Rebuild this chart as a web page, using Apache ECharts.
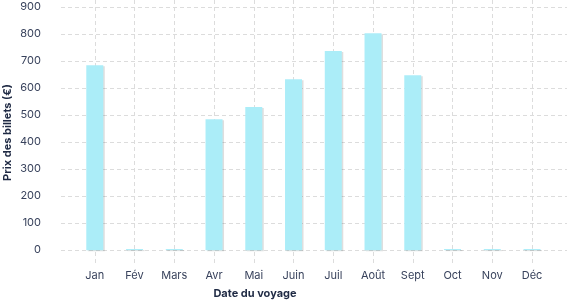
<!DOCTYPE html>
<html>
<head>
<meta charset="utf-8">
<script src="https://cdn.jsdelivr.net/npm/echarts@6/dist/echarts.min.js"></script>
<style>html,body{margin:0;padding:0;background:#fff}#c{width:577px;height:300px}</style>
</head>
<body>
<div id="c"></div>
<script>
const months = ['Jan','Fév','Mars','Avr','Mai','Juin','Juil','Août','Sept','Oct','Nov','Déc'];
const prices = [684, 4, 4, 484, 529, 632, 736, 802, 647, 4, 4, 4];
const yTicks = [0,100,200,300,400,500,600,700,800,900];

const monthIdx = months.map((m, i) => i);
const barData = prices.map((v, i) => [i, v]);

const chart = echarts.init(document.getElementById('c'), null, {renderer: 'canvas'});
const labelColor = '#38425c';
const gridLine = {show: true, lineStyle: {color: '#dcdcdc', type: [4, 3], width: 1}};
chart.setOption({
  animation: false,
  grid: {left: 61, right: 10, top: 0, bottom: 35, containLabel: false, outerBoundsMode: 'none'},
  xAxis: {
    type: 'value',
    min: -0.85, max: 11.88,
    name: 'Date du voyage',
    nameLocation: 'middle',
    nameGap: 23,
    nameMoveOverlap: false,
    nameTextStyle: {fontFamily: 'Inter', fontWeight: 'bold', fontSize: 11, color: '#1f2a44', padding: [0, 118, 0, 0]},
    axisLine: {show: false},
    axisTick: {show: false, customValues: monthIdx},
    splitLine: gridLine,
    axisLabel: {customValues: monthIdx, formatter: v => months[Math.round(v)], fontFamily: 'Inter', fontSize: 11, color: labelColor, margin: 5, letterSpacing: -0.5}
  },
  yAxis: {
    type: 'value',
    min: -55, max: 925,
    name: 'Prix des billets (€)',
    nameLocation: 'middle',
    nameGap: 48,
    nameRotate: 90,
    nameMoveOverlap: false,
    nameTextStyle: {fontFamily: 'Inter', fontWeight: 'bold', fontSize: 11, color: '#1f2a44'},
    axisLine: {show: false},
    axisTick: {show: false, customValues: yTicks},
    splitLine: gridLine,
    axisLabel: {customValues: yTicks, fontFamily: 'Inter', fontSize: 11, color: labelColor, margin: 20, letterSpacing: -0.5}
  },
  series: [{
    type: 'bar',
    data: barData,
    barWidth: 17,
    itemStyle: {color: '#abedf8', shadowColor: 'rgba(0,0,0,0.13)', shadowOffsetX: 1.5, shadowOffsetY: 1, shadowBlur: 0}
  }]
});
</script>
</body>
</html>
